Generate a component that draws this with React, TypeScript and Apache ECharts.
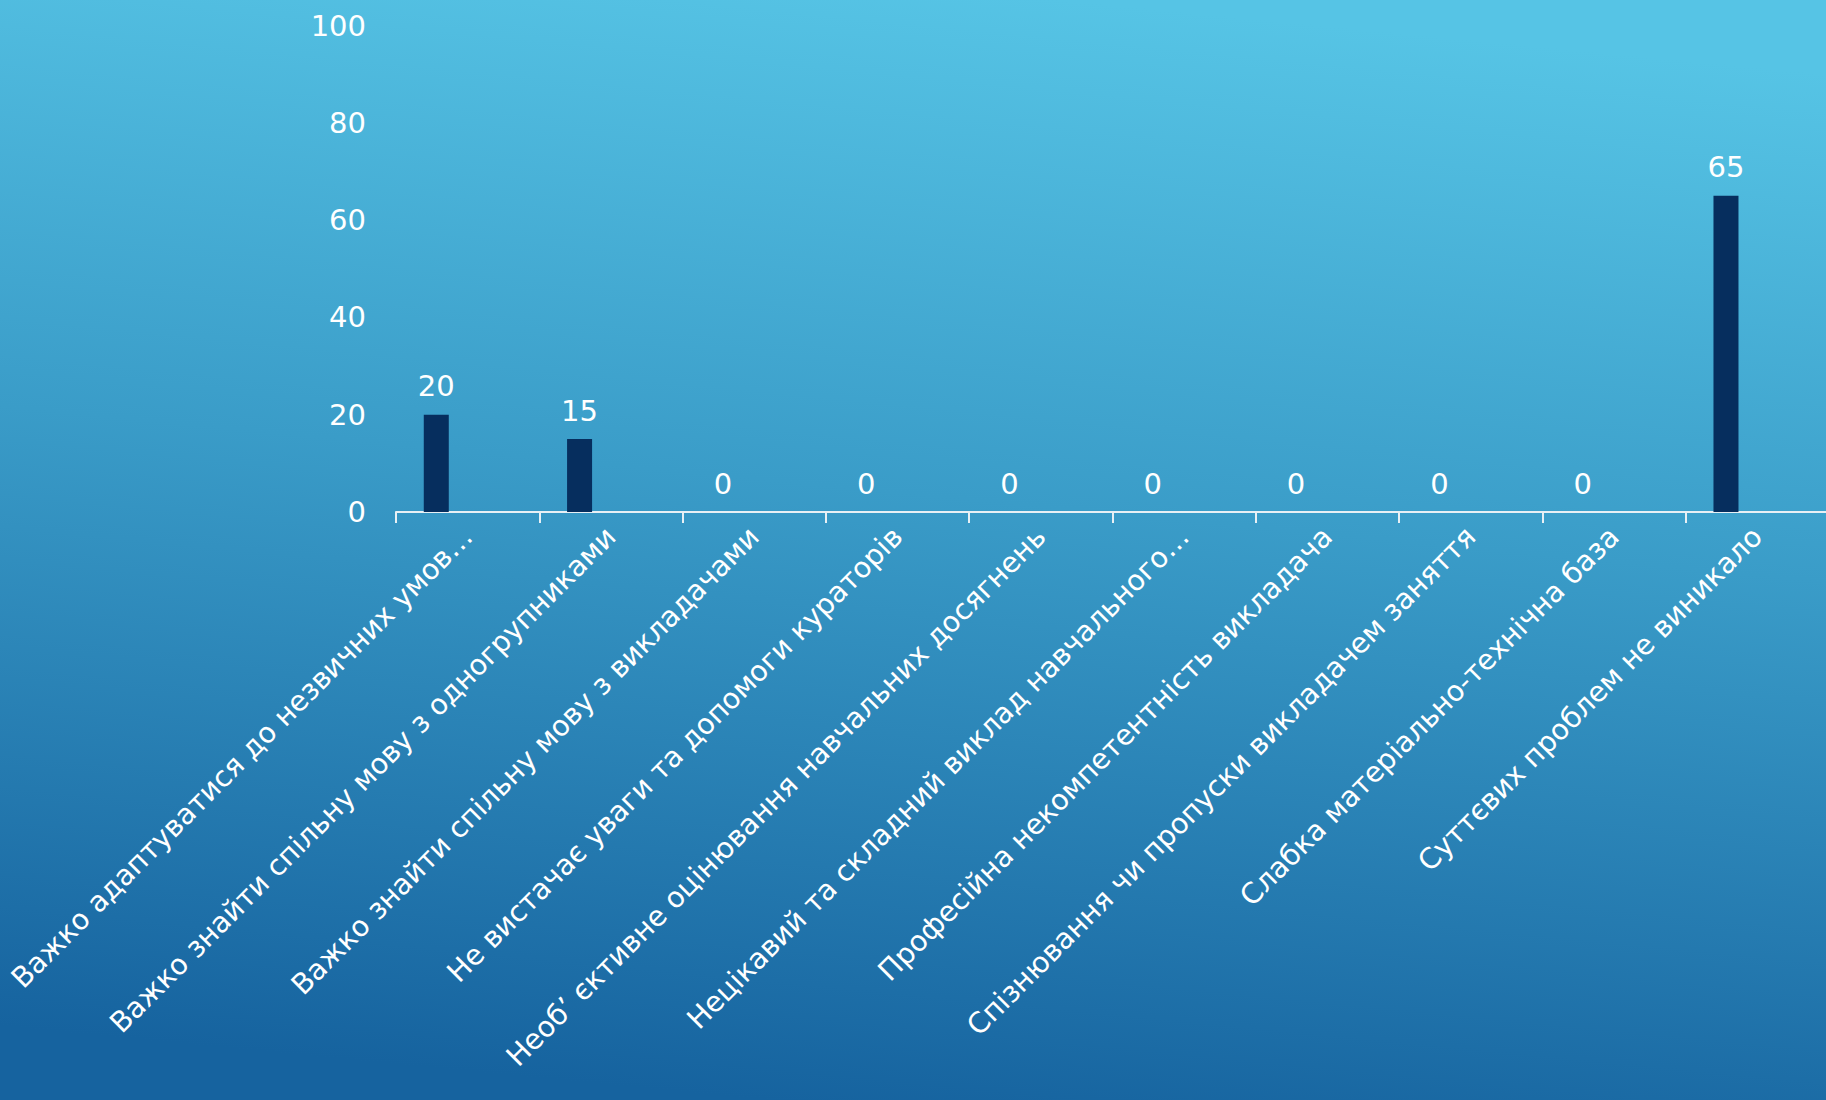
import React, { useEffect, useRef } from "react";
import * as echarts from "echarts";

const categories: string[] = [
  "Важко адаптуватися до незвичних умов…",
  "Важко знайти спільну мову з одногрупниками",
  "Важко знайти спільну мову з викладачами",
  "Не вистачає уваги та допомоги кураторів",
  "Необ’ єктивне оцінювання навчальних досягнень",
  "Нецікавий та складний виклад навчального…",
  "Професійна некомпетентність викладача",
  "Спізнювання чи пропуски викладачем заняття",
  "Слабка матеріально-технічна база",
  "Суттєвих проблем не виникало",
];

const values: number[] = [20, 15, 0, 0, 0, 0, 0, 0, 0, 65];
const emptySeries: (number | null)[] = [null, null, null, null, null, null, null, null, null, null];

const yMin = 0;
const yMax = 100;
const yInterval = 20;

const FONT = "'DejaVu Sans', sans-serif";

export default function App() {
  const ref = useRef<HTMLDivElement>(null);

  useEffect(() => {
    if (!ref.current) return;
    const chart = echarts.init(ref.current, null, { renderer: "svg" });
    chart.setOption({
      animation: false,
      backgroundColor: new echarts.graphic.LinearGradient(0.58, 0, 0.42, 1, [
        { offset: 0, color: "#56c4e5" },
        { offset: 0.45, color: "#3a9cc8" },
        { offset: 1, color: "#16639f" },
      ]),
      grid: {
        left: 396,
        top: 25.6,
        width: 1433,
        height: 486.4,
        containLabel: false,
        outerBoundsMode: "none",
      },
      xAxis: {
        type: "category",
        data: categories,
        axisLine: { show: true, lineStyle: { color: "#e8f0f5", width: 2 } },
        axisTick: { show: true, length: 11, lineStyle: { color: "#e8f0f5", width: 2 } },
        axisLabel: {
          rotate: 45,
          interval: 0,
          margin: 20,
          color: "#ffffff",
          fontFamily: FONT,
          fontSize: 28.5,
        },
        splitLine: { show: false },
      },
      yAxis: {
        type: "value",
        min: yMin,
        max: yMax,
        interval: yInterval,
        axisLine: { show: false },
        axisTick: { show: false },
        splitLine: { show: false },
        axisLabel: {
          color: "#ffffff",
          fontFamily: FONT,
          fontSize: 29,
          margin: 30,
        },
      },
      series: [
        {
          name: "Відповіді",
          type: "bar",
          data: values,
          barWidth: 25,
          barGap: "151%",
          itemStyle: { color: "#062e5e", borderWidth: 0 },
          label: {
            show: true,
            position: "top",
            distance: 14,
            color: "#ffffff",
            fontFamily: FONT,
            fontSize: 29,
          },
        },
        {
          name: "_",
          type: "bar",
          data: emptySeries,
          barWidth: 25,
          label: { show: false },
        },
      ],
    });
    return () => chart.dispose();
  }, []);

  return (
    <div
      ref={ref}
      style={{ position: "fixed", left: 0, top: 0, width: 1826, height: 1100 }}
    />
  );
}
